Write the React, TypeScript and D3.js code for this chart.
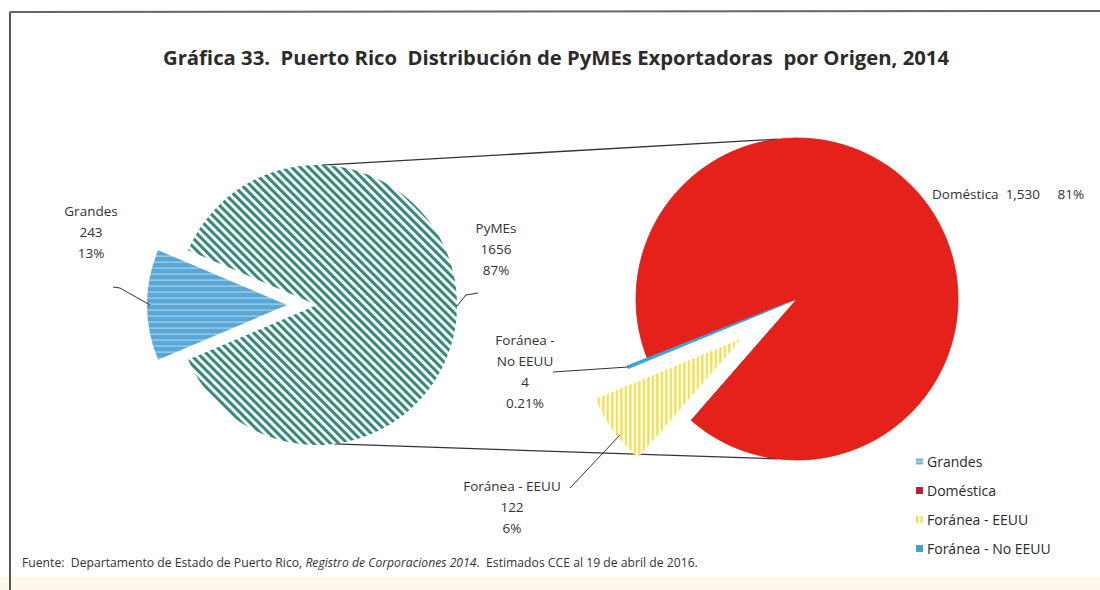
import React from "react";
import * as d3 from "d3";

// ---- data ----
const leftCategories = ["Grandes", "PyMEs"];
const leftValues = [243, 1656];
const leftValueLabels = ["243", "1656"];
const leftPercents = ["13%", "87%"];

const rightCategories = ["Doméstica", "Foránea - EEUU", "Foránea - No EEUU"];
const rightValues = [1530, 122, 4];
const rightValueLabels = ["1,530", "122", "4"];
const rightPercents = ["81%", "6%", "0.21%"];

const legendLabels = ["Grandes", "Doméstica", "Foránea - EEUU", "Foránea - No EEUU"];

const titleText = "Gráfica 33.  Puerto Rico  Distribución de PyMEs Exportadoras  por Origen, 2014";

const FONT = "'Open Sans', Lato, sans-serif";
const deg = Math.PI / 180;

export default function App() {
  const W = 1100;
  const H = 590;

  // left pie geometry
  const lc = { x: 317, y: 305 };
  const lr = 140;
  const leftExplode = [30, 0];
  const leftStart = (270 - (leftValues[0] / d3.sum(leftValues)) * 180) * deg;
  const leftPie = d3.pie<number>().sort(null).startAngle(leftStart).endAngle(leftStart + 2 * Math.PI);
  const leftArcs = leftPie(leftValues);
  const leftArcGen = d3.arc<d3.PieArcDatum<number>>().innerRadius(0).outerRadius(lr);

  // right pie geometry
  const rc = { x: 797, y: 299 };
  const rRadii = [161, 158, 170];
  const rightExplode = [0, 68, 12];
  const rightStart = 248.5 * deg;
  const rightPie = d3.pie<number>().sort(null).startAngle(rightStart).endAngle(rightStart + 2 * Math.PI);
  const rightArcs = rightPie(rightValues);

  const offset = (a: d3.PieArcDatum<number>, e: number) => {
    const m = (a.startAngle + a.endAngle) / 2 - Math.PI / 2;
    return [Math.cos(m) * e, Math.sin(m) * e];
  };

  // tip of the "No EEUU" sliver for its leader line
  const blue = rightArcs[2];
  const [bdx, bdy] = offset(blue, rightExplode[2]);
  const bm = (blue.startAngle + blue.endAngle) / 2 - Math.PI / 2;
  const blueTip: [number, number] = [rc.x + bdx + Math.cos(bm) * rRadii[2], rc.y + bdy + Math.sin(bm) * rRadii[2]];

  const leftFills = ["url(#grandesPat)", "url(#pymesPat)"];
  const rightFills = ["#e5211c", "url(#eeuuPat)", "#3aa2dc"];

  // connector lines (points on circles)
  const pt = (c: { x: number; y: number }, r: number, a: number) => [c.x + r * Math.cos(a * deg), c.y + r * Math.sin(a * deg)];
  const lTop = pt(lc, lr, -88);
  const lBot = pt(lc, lr, 83);
  const rTop = pt(rc, 161, -97);
  const rBot = pt(rc, 161, 97);

  const line = d3.line();

  const labelColor = "#333";
  const fs = 13.5;

  const multiLabel = (x: number, y: number, lines: string[], key: string) => (
    <text key={key} x={x} y={y} textAnchor="middle" fontFamily={FONT} fontSize={fs} fill={labelColor}>
      {lines.map((l, i) => (
        <tspan key={i} x={x} dy={i === 0 ? 0 : 21}>
          {l}
        </tspan>
      ))}
    </text>
  );

  const legendY = d3.scalePoint<string>().domain(legendLabels).range([462, 549]);
  const legendFills = ["url(#grandesLeg)", "#ad2638", "url(#eeuuPat)", "#36a3dc"];

  return (
    <svg width={W} height={H} style={{ position: "absolute", left: 0, top: 0, background: "#fff" }}>
      <defs>
        <pattern id="pymesPat" width={6} height={6} patternUnits="userSpaceOnUse" patternTransform="rotate(-45)">
          <rect width={6} height={6} fill="#ffffff" />
          <rect width={3.1} height={6} fill="#35887a" />
        </pattern>
        <pattern id="grandesPat" width={6} height={6} patternUnits="userSpaceOnUse">
          <rect width={6} height={6} fill="#58a7d6" />
          <rect y={4.5} width={6} height={1.2} fill="#a5d3ec" />
        </pattern>
        <pattern id="grandesLeg" width={3} height={3} patternUnits="userSpaceOnUse">
          <rect width={3} height={3} fill="#7fb4cb" />
          <rect y={2} width={3} height={1} fill="#c2dde8" />
        </pattern>
        <pattern id="eeuuPat" width={4.5} height={4.5} patternUnits="userSpaceOnUse">
          <rect width={4.5} height={4.5} fill="#ffffff" />
          <rect width={2.3} height={4.5} fill="#f1e04b" />
        </pattern>
      </defs>

      <rect x={0} y={0} width={W} height={H} fill="#ffffff" />
      <rect x={0} y={577} width={W} height={13} fill="#fdf8ea" />

      {/* frame */}
      <line x1={10} y1={12} x2={W} y2={11} stroke="#666" strokeWidth={2} />
      <line x1={10} y1={12} x2={10} y2={H} stroke="#555" strokeWidth={2} />

      {/* title */}
      <text x={556} y={65} textAnchor="middle" fontFamily={FONT} fontWeight={700} fontSize={20.3} fill="#2b2b2b" style={{ whiteSpace: "pre" }}>
        {titleText}
      </text>

      {/* connector lines */}
      <path d={line([lTop as [number, number], rTop as [number, number]]) || ""} stroke="#333" strokeWidth={1.3} fill="none" />
      <path d={line([lBot as [number, number], rBot as [number, number]]) || ""} stroke="#333" strokeWidth={1.3} fill="none" />

      {/* left pie */}
      {leftArcs.map((a, i) => {
        const [dx, dy] = offset(a, leftExplode[i]);
        return (
          <path key={leftCategories[i]} d={leftArcGen(a) || ""} transform={`translate(${lc.x + dx},${lc.y + dy})`} fill={leftFills[i]} />
        );
      })}

      {/* right pie */}
      {rightArcs.map((a, i) => {
        const [dx, dy] = offset(a, rightExplode[i]);
        const gen = d3.arc<d3.PieArcDatum<number>>().innerRadius(0).outerRadius(rRadii[i]);
        return (
          <path
            key={rightCategories[i]}
            d={gen(a) || ""}
            transform={`translate(${rc.x + dx},${rc.y + dy})`}
            fill={rightFills[i]}
            stroke={i === 2 ? "#3aa2dc" : i === 0 ? "#d01a16" : "none"}
            strokeWidth={i === 2 ? 1.2 : 0.8}
          />
        );
      })}

      {/* leader lines */}
      <path d={line([[113, 287], [120, 288], [150, 305]]) || ""} stroke="#333" strokeWidth={1} fill="none" />
      <path d={line([[478, 293], [466, 295], [457, 306]]) || ""} stroke="#333" strokeWidth={1} fill="none" />
      <path d={line([[553, 372], blueTip]) || ""} stroke="#333" strokeWidth={1} fill="none" />
      <path d={line([[570, 488], [620, 435]]) || ""} stroke="#333" strokeWidth={1} fill="none" />

      {/* data labels */}
      {multiLabel(91, 216, [leftCategories[0], leftValueLabels[0], leftPercents[0]], "lg")}
      {multiLabel(496, 233, [leftCategories[1], leftValueLabels[1], leftPercents[1]], "lp")}
      {multiLabel(525, 345, ["Foránea -", "No EEUU", rightValueLabels[2], rightPercents[2]], "rn")}
      {multiLabel(512, 491, [rightCategories[1], rightValueLabels[1], rightPercents[1]], "re")}
      <text x={932} y={199} fontFamily={FONT} fontSize={fs} fill={labelColor} style={{ whiteSpace: "pre" }}>
        {`${rightCategories[0]}  ${rightValueLabels[0]}     ${rightPercents[0]}`}
      </text>

      {/* legend */}
      {legendLabels.map((l, i) => (
        <g key={l} transform={`translate(916,${legendY(l)})`}>
          <rect x={0} y={-4} width={7} height={7} fill={legendFills[i]} />
          <text x={11} y={5} fontFamily={FONT} fontSize={14} fill="#2a2a2a">
            {l}
          </text>
        </g>
      ))}

      {/* footer */}
      <text x={22} y={567} fontFamily={FONT} fontSize={12.2} fill="#333" style={{ whiteSpace: "pre" }}>
        <tspan>{"Fuente:  Departamento de Estado de Puerto Rico, "}</tspan>
        <tspan fontStyle="italic">{"Registro de Corporaciones 2014"}</tspan>
        <tspan>{".  Estimados CCE al 19 de abril de 2016."}</tspan>
      </text>
    </svg>
  );
}
